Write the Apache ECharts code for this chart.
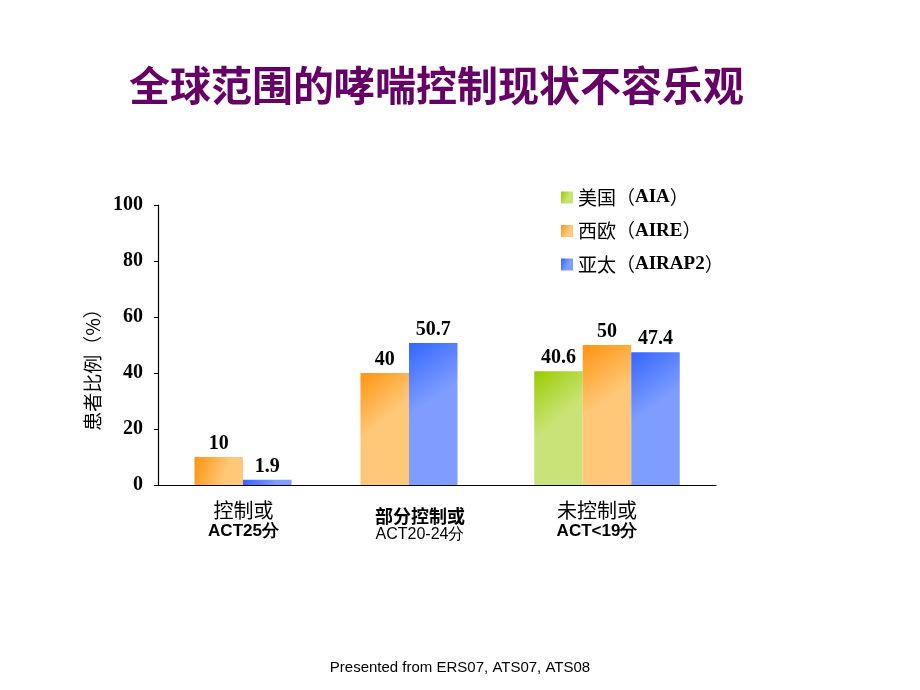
<!DOCTYPE html>
<html>
<head>
<meta charset="utf-8">
<script src="https://cdn.jsdelivr.net/npm/echarts@6/dist/echarts.min.js"></script>
<style>html,body{margin:0;padding:0;background:#fff;}#main{width:920px;height:690px;}</style>
</head>
<body>
<div id="main"></div>
<script>
// ---- data ----
const categoryLine1 = ['控制或', '部分控制或', '未控制或'];
const categoryLine2 = ['ACT25分', 'ACT20-24分', 'ACT<19分'];
const seriesNames = ['美国（AIA）', '西欧（AIRE）', '亚太（AIRAP2）'];
const usaValues = [null, null, 40.6];
const europeValues = [10, 40, 50];
const asiaValues = [1.9, 50.7, 47.4];
const yTickLabels = ['0', '20', '40', '60', '80', '100'];
const titleText = '全球范围的哮喘控制现状不容乐观';
const yAxisName = '患者比例（%）';
const footerText = 'Presented from ERS07, ATS07, ATS08';

// ---- layout / style ----
const allValues = [usaValues, europeValues, asiaValues];
const plotTop = 205, plotH = 280;
const edges = [158, 329, 511, 716];
const barCenters = [243, 409, 607];
const colorPairs = [['#99CC00', '#C9E476'], ['#FF9410', '#FFC878'], ['#3366FF', '#7E9DFF']];
function grad(c) {
  return new echarts.graphic.LinearGradient(0, 0, 0.7, 0.35, [
    { offset: 0, color: c[0] }, { offset: 1, color: c[1] }
  ]);
}
const chart = echarts.init(document.getElementById('main'));

const grids = [], xAxes = [], yAxes = [], series = [];
const labelMargins = [15, 22, 15];
const labelPaddings = [[0, 0, 0, 0], [0, 0, 0, 0], [0, 33, 0, 0]];
for (let i = 0; i < 3; i++) {
  grids.push({ left: edges[i], width: edges[i + 1] - edges[i], top: plotTop, height: plotH });
  const mid = i === 1;
  xAxes.push({
    gridIndex: i, type: 'category', data: [categoryLine1[i]], boundaryGap: true,
    axisLine: { lineStyle: { color: '#000', width: 1.2 } },
    axisTick: { inside: true, length: 5, lineStyle: { color: '#000' } },
    axisLabel: {
      margin: labelMargins[i], padding: labelPaddings[i], interval: 0,
      formatter: () => mid ? `{c|${categoryLine1[i]}}\n{d|${categoryLine2[i]}}`
                           : `{a|${categoryLine1[i]}}\n{b|${categoryLine2[i]}}`,
      rich: {
        a: { fontFamily: 'Noto Sans CJK SC', fontSize: 20, lineHeight: 21, color: '#000' },
        b: { fontFamily: 'Liberation Sans', fontWeight: 'bold', fontSize: 17, lineHeight: 20, color: '#000' },
        c: { fontFamily: 'Noto Sans CJK SC', fontWeight: 'bold', fontSize: 18, lineHeight: 18, color: '#000' },
        d: { fontFamily: 'Liberation Sans', fontSize: 16, lineHeight: 19, color: '#000' }
      }
    }
  });
  if (i === 0) {
    yAxes.push({
      gridIndex: 0, type: 'value', min: 0, max: 100, interval: 20,
      axisLine: { show: true, lineStyle: { color: '#000', width: 1.2 } },
      axisTick: { show: true, length: 4, lineStyle: { color: '#000' } },
      splitLine: { show: false },
      axisLabel: {
        margin: 15, color: '#000', fontFamily: 'Liberation Serif', fontWeight: 'bold', fontSize: 20,
        formatter: v => yTickLabels[Math.round(v / 20)]
      },
      name: yAxisName, nameLocation: 'middle', nameRotate: 90, nameGap: 56,
      nameTextStyle: { fontFamily: 'Noto Sans CJK SC', fontSize: 19, color: '#000', padding: [0, 40, 0, 0] }
    });
  } else {
    yAxes.push({ gridIndex: i, type: 'value', min: 0, max: 100, show: false, splitLine: { show: false } });
  }
}
for (let i = 0; i < 3; i++) {
  const gi = 3 + i;
  grids.push({ left: barCenters[i] - 80, width: 160, top: plotTop, height: plotH });
  xAxes.push({ gridIndex: gi, type: 'category', data: [categoryLine1[i]], show: false });
  yAxes.push({ gridIndex: gi, type: 'value', min: 0, max: 100, show: false, splitLine: { show: false } });
  for (let s = 0; s < 3; s++) {
    const v = allValues[s][i];
    if (v === null) continue;
    series.push({
      type: 'bar', name: seriesNames[s], xAxisIndex: gi, yAxisIndex: gi,
      data: [v], barWidth: 48.5, barGap: '0%',
      itemStyle: { color: grad(colorPairs[s]) },
      label: { show: true, position: 'top', distance: 3, color: '#000',
               fontFamily: 'Liberation Serif', fontWeight: 'bold', fontSize: 20 }
    });
  }
}

chart.setOption({
  animation: false,
  backgroundColor: '#fff',
  title: [
    { text: titleText, left: 124, top: 60,
      textStyle: { color: '#660066', fontSize: 41, fontWeight: 'bold', fontFamily: 'Noto Sans CJK SC' } },
    { text: footerText, left: 'center', top: 655,
      textStyle: { color: '#000', fontSize: 15, fontWeight: 'normal', fontFamily: 'Liberation Sans' } }
  ],
  legend: {
    orient: 'vertical', left: 556, top: 183, itemWidth: 12, itemHeight: 12, itemGap: 14.5,
    icon: 'rect', data: seriesNames,
    formatter: name => {
      const m = name.match(/^(.*)（(.*)）$/);
      return `{c|${m[1]}（}{e|${m[2]}}{c|）}`;
    },
    textStyle: {
      rich: {
        c: { fontFamily: 'Noto Sans CJK SC', fontSize: 19, color: '#000', lineHeight: 20 },
        e: { fontFamily: 'Liberation Serif', fontWeight: 'bold', fontSize: 19, color: '#000', lineHeight: 20 }
      }
    }
  },
  grid: grids,
  xAxis: xAxes,
  yAxis: yAxes,
  series: series
});
</script>
</body>
</html>
